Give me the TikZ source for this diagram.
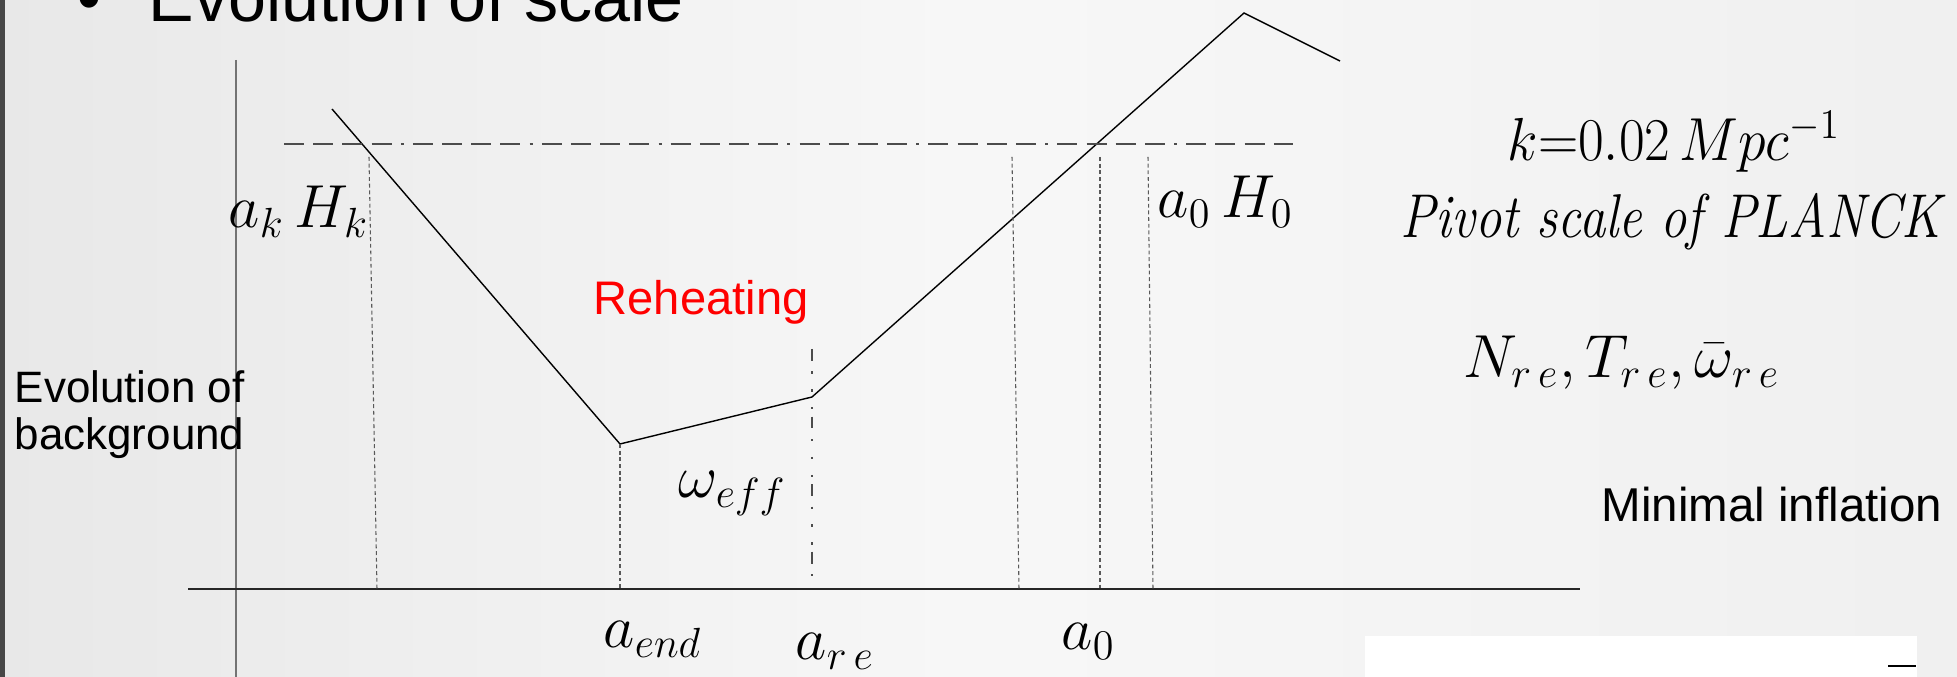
\documentclass[tikz,border=0pt]{standalone}
\usepackage{fontspec}
\setsansfont{Liberation Sans}
\usepackage{graphicx}
\newcommand{\narrow}[2]{\scalebox{#1}[1]{#2}}

\begin{document}
\begin{tikzpicture}[x=0.01cm, y=-0.01cm,
  % Line styles
  xaxis/.style={black!85, line width=0.6pt},
  yaxis/.style={black!55, line width=0.6pt},
  curve/.style={black, line width=0.4pt},
  guide/.style={black!65, line width=0.3pt, dash pattern=on 1.1pt off 0.8pt},
  horizon/.style={black!70, line width=0.35pt,
    dash pattern=on 5.7pt off 2.6pt on 5.7pt off 2.6pt on 5.7pt off 2.6pt on 5.7pt off 2.6pt on 0.85pt off 2.6pt},
  reline/.style={black!70, line width=0.3pt,
    dash pattern=on 3.4pt off 3pt on 0.6pt off 4.5pt on 0.6pt off 4.5pt on 0.6pt off 2pt},
  % Text styles
  eq/.style={inner sep=0pt, anchor=base west, font=\fontsize{17.6}{20}\selectfont},
  sans/.style={inner sep=0pt, anchor=base west, font=\sffamily\fontsize{13.5}{15}\selectfont},
]

% === BACKGROUND ===
\useasboundingbox (0,0) rectangle (1957,677);
\shade[left color=black!9, right color=black!6, middle color=black!3] (0,0) rectangle (1957,677);
\fill[black!72] (0,0) rectangle (5,677);
\fill[white] (1365,636) rectangle (1917,677);
\draw[black, line width=0.35pt] (1888,666) -- (1916,666);

% === AXES ===
\coordinate (O)   at (236,589);
\coordinate (top) at (236,60);
\coordinate (bot) at (236,677);
\coordinate (xl)  at (188,589);
\coordinate (xr)  at (1580,589);
\draw[yaxis] (top) -- (bot);
\draw[xaxis] (xl) -- (xr);

% === EVOLUTION CURVE ===
\coordinate (start) at (332,109);
\coordinate (aend)  at (620,444);
\coordinate (are)   at (812,397);
\coordinate (peak)  at (1244,13);
\coordinate (stop)  at (1340,61);
\draw[curve] (start) -- (aend) -- (are) -- (peak) -- (stop);

% === HORIZON LINE ===
\coordinate (hl) at (284,144);
\coordinate (hr) at (1293,144);
\draw[horizon] (hl) -- (hr);

% === VERTICAL GUIDES ===
\coordinate (kt)   at (369,157);  \coordinate (kb)   at (377,589);
\coordinate (endb) at (620,589);
\coordinate (ret)  at (812,349);  \coordinate (reb)  at (812,589);
\coordinate (g1t)  at (1012,157); \coordinate (g1b)  at (1019,589);
\coordinate (g2t)  at (1100,157); \coordinate (g2b)  at (1100,589);
\coordinate (g3t)  at (1148,157); \coordinate (g3b)  at (1153,589);
\draw[guide]  (kt) -- (kb);
\draw[guide]  (aend) -- (endb);
\draw[reline] (ret) -- (reb);
\draw[guide]  (g1t) -- (g1b);
\draw[guide]  (g2t) -- (g2b);
\draw[guide]  (g3t) -- (g3b);

% === LABELS ===
\node[sans, font=\sffamily\fontsize{19.4}{22}\selectfont] (bullet) at (77,22) {•};
\node[sans, font=\sffamily\fontsize{19.4}{22}\selectfont] (title) at (148,22) {Evolution of scale};
\node[sans, align=left, font=\sffamily\fontsize{12.5}{13.4}\selectfont] (ylabel) at (14,450) {Evolution of\\background};
\node[sans, red, font=\sffamily\fontsize{13.4}{15}\selectfont] (reheat) at (593,315) {Reheating};

\node[eq] (akHk) at (228,228) {$a_k\,H_k$};
\node[eq] (a0H0) at (1157,218) {$a_0\,H_0$};
\node[eq] (weff) at (678,498) {$\omega_{eff}$};
\node[eq] (laend) at (603,648) {$a_{end}$};
\node[eq] (lare) at (795,660) {$a_{r\,e}$};
\node[eq] (la0) at (1061,650) {$a_0$};

% === RIGHT COLUMN ===
\node[eq] (kval) at (1507,161) {\narrow{0.92}{$k{=}0.02\,Mpc^{-1}$}};
\node[eq] (pivot) at (1400,238) {\narrow{0.85}{\textit{Pivot scale of PLANCK}}};
\node[eq] (Nre) at (1463,378) {$N_{r\,e},T_{r\,e},\bar{\omega}_{r\,e}$};
\node[sans] (mininf) at (1601,522) {Minimal inflation};

\end{tikzpicture}
\end{document}
